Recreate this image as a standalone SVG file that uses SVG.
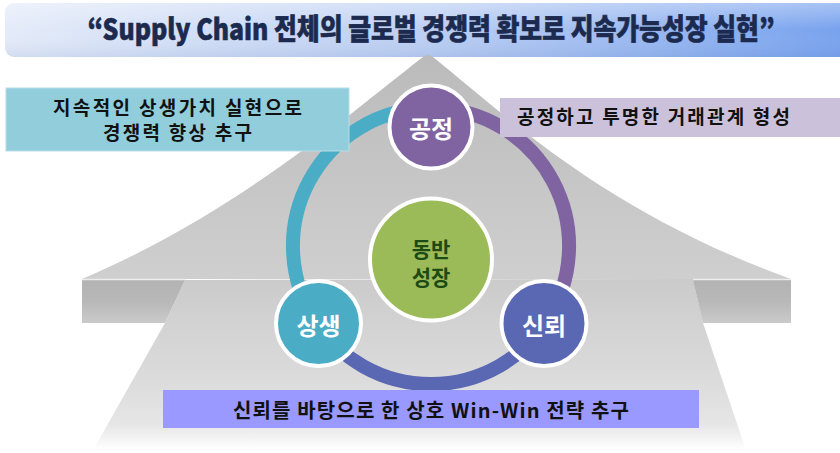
<svg xmlns="http://www.w3.org/2000/svg" width="840" height="453" viewBox="0 0 840 453">
<defs>
<linearGradient id="bannerG" x1="0" y1="0" x2="1" y2="0">
<stop offset="0" stop-color="#e4ebf9"/>
<stop offset="0.5" stop-color="#bccff3"/>
<stop offset="1" stop-color="#78a2ee"/>
</linearGradient>
<linearGradient id="bannerGloss" x1="0" y1="0" x2="0" y2="1">
<stop offset="0" stop-color="#ffffff" stop-opacity="0.35"/>
<stop offset="0.5" stop-color="#ffffff" stop-opacity="0"/>
<stop offset="1" stop-color="#5070b0" stop-opacity="0.12"/>
</linearGradient>
<linearGradient id="headG" x1="0" y1="57" x2="0" y2="282" gradientUnits="userSpaceOnUse">
<stop offset="0" stop-color="#bbbbbb"/>
<stop offset="1" stop-color="#cfcfcf"/>
</linearGradient>
<linearGradient id="bodyG" x1="0" y1="280" x2="0" y2="450" gradientUnits="userSpaceOnUse">
<stop offset="0" stop-color="#cbcbcb"/>
<stop offset="0.6" stop-color="#dcdcdc"/>
<stop offset="0.85" stop-color="#e6e6e6"/>
<stop offset="1" stop-color="#ffffff"/>
</linearGradient>
<linearGradient id="slabG" x1="0" y1="280" x2="0" y2="323" gradientUnits="userSpaceOnUse">
<stop offset="0" stop-color="#b3b3b3"/>
<stop offset="0.5" stop-color="#b8b8b8"/>
<stop offset="1" stop-color="#cacaca"/>
</linearGradient>
</defs>
<style>
.kr{font-family:"Noto Sans CJK KR","Noto Sans",sans-serif;}
.box{font-size:19px;font-weight:bold;fill:#111111;}
.node{stroke:#ffffff;stroke-width:4;}
.ntext{font-size:24px;font-weight:bold;fill:#ffffff;text-anchor:middle;}
.ring{fill:none;stroke-width:14;}
</style>

<g id="title">
<path d="M14,3 H840 V57 H14 A9,9 0 0 1 5,48 V12 A9,9 0 0 1 14,3 Z" fill="url(#bannerG)"/>
<path d="M14,3 H840 V57 H14 A9,9 0 0 1 5,48 V12 A9,9 0 0 1 14,3 Z" fill="url(#bannerGloss)"/>
<text class="kr" transform="translate(431,40) scale(0.84,1)" x="0" y="0" text-anchor="middle" font-size="29" font-weight="900" fill="#1b2a4e" stroke="#1b2a4e" stroke-width="0.6" textLength="818" lengthAdjust="spacingAndGlyphs">“Supply Chain 전체의 글로벌 경쟁력 확보로 지속가능성장 실현”</text>
</g>

<g id="arrow">
<path d="M185,280 L693,279 L703,323 L746,450 L92,452 L165,323 Z" fill="url(#bodyG)"/>
<path d="M423,57 Q428,53 433,57 C500,110 600,210 791,279 L82,279 C240,212 360,105 423,57 Z" fill="url(#headG)"/>
<path d="M82,280 L185,280 L165,323 L82,323 Z" fill="url(#slabG)"/>
<path d="M693,280 L791,280 L791,323 L703,323 Z" fill="url(#slabG)"/>
<line x1="82" y1="279.5" x2="185" y2="279.5" stroke="#ececec" stroke-width="1.5"/>
<line x1="693" y1="279.5" x2="791" y2="279.5" stroke="#ececec" stroke-width="1.5"/>
</g>

<g id="connectors">
<path class="ring" stroke="#4bacc6" d="M317.4,324.4 A138,138 0 0 1 431,108"/>
<path class="ring" stroke="#8064a2" d="M431,108 A138,138 0 0 1 544.9,324"/>
<path class="ring" stroke="#5a67b3" d="M544.9,324 A138,138 0 0 1 317.4,324.4"/>
</g>

<g id="node-center">
<circle class="node" cx="431" cy="259.5" r="61" fill="#9bbb59"/>
<text class="kr" x="431" y="257" font-size="21" font-weight="bold" fill="#1e4a14" text-anchor="middle">동반</text>
<text class="kr" x="431" y="285" font-size="21" font-weight="bold" fill="#1e4a14" text-anchor="middle">성장</text>
</g>

<g id="node-gongjeong">
<circle class="node" cx="431" cy="127" r="41.5" fill="#8064a2"/>
<text class="kr ntext" x="431" y="138">공정</text>
</g>

<g id="node-sangsaeng">
<circle class="node" cx="318.5" cy="323.5" r="42.5" fill="#4bacc6"/>
<text class="kr ntext" x="318.5" y="335">상생</text>
</g>

<g id="node-sinroe">
<circle class="node" cx="544" cy="323.5" r="42.5" fill="#5a67b3"/>
<text class="kr ntext" x="544" y="335">신뢰</text>
</g>

<g id="box-left">
<rect x="6" y="88" width="343" height="63" fill="#92cddc" stroke="#b5dde8" stroke-width="1"/>
<text class="kr box" x="177.5" y="114.5" text-anchor="middle" textLength="249" lengthAdjust="spacing">지속적인 상생가치 실현으로</text>
<text class="kr box" x="177.5" y="139.5" text-anchor="middle" textLength="149" lengthAdjust="spacing">경쟁력 향상 추구</text>
</g>

<g id="box-right">
<rect x="500" y="98" width="340" height="39" fill="#ccc1da"/>
<text class="kr box" x="517" y="124" textLength="273" lengthAdjust="spacing">공정하고 투명한 거래관계 형성</text>
</g>

<g id="box-bottom">
<rect x="163" y="390" width="536" height="38" fill="#9999ff"/>
<text class="kr" x="431" y="417.5" text-anchor="middle" font-size="20" font-weight="bold" fill="#111111" textLength="396" lengthAdjust="spacing">신뢰를 바탕으로 한 상호 Win-Win 전략 추구</text>
</g>
</svg>
